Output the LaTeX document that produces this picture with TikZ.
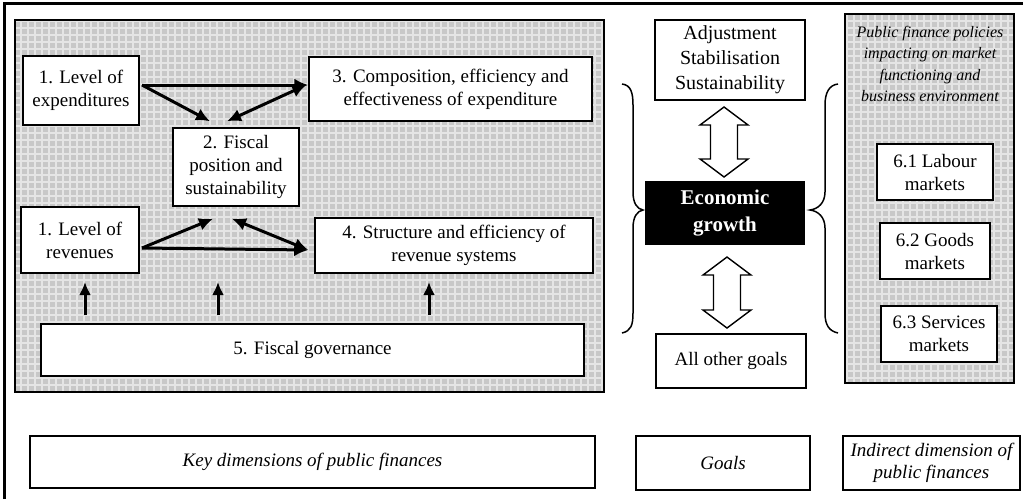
\documentclass[tikz,border=0pt]{standalone}
\usepackage{fontspec}
\setmainfont{Liberation Serif}
\usetikzlibrary{arrows.meta,calc}
\definecolor{panelbg}{RGB}{200,200,200}
\definecolor{panelgrid}{RGB}{229,229,229}
\tikzset{
  box/.style={draw, fill=white, line width=1.5pt, inner sep=0pt, align=center,
    font=\fontsize{19}{23}\selectfont},
  arr/.style={line width=3pt, -{Latex[length=14pt,width=13pt]}},
  dblarr/.style={line width=3pt, {Latex[length=14pt,width=13pt]}-{Latex[length=14pt,width=13pt]}},
  uparr/.style={line width=3pt, -{Latex[length=13pt,width=12pt]}},
  openarrow/.style={draw, fill=white, line width=1.4pt, line join=miter},
  brace/.style={draw, line width=1.5pt},
  panel/.style={draw, line width=1.4pt}
}
\begin{document}
\begin{tikzpicture}[x=1pt,y=-1pt]
\useasboundingbox (0,0) rectangle (1023,499);
% outer frame (top and left visible)
\draw[line width=3pt] (4,499) -- (4,3) -- (1023,3);
% left panel
\begin{scope}
\clip (15,20) rectangle (604,392);
\fill[panelbg] (15,20) rectangle (604,392);
\draw[panelgrid, line width=1.2pt, step=7pt] (15,20) grid (604,392);
\end{scope}
\draw[panel] (15,20) rectangle (604,392);
% right panel
\begin{scope}
\clip (845,14) rectangle (1014,383);
\fill[panelbg] (845,14) rectangle (1014,383);
\draw[panelgrid, line width=1.2pt, step=7pt] (845,14) grid (1014,383);
\end{scope}
\draw[panel] (845,14) rectangle (1014,383);

% boxes left panel
\node[box, minimum width=116, minimum height=69] (exp) at (81,90.5) {1. Level of\\expenditures};
\node[box, minimum width=283, minimum height=64] (b3) at (450.5,89) {3. Composition, efficiency and\\effectiveness of expenditure};
\node[box, minimum width=126, minimum height=78] (b2) at (236,167) {2. Fiscal\\position and\\sustainability};
\node[box, minimum width=118, minimum height=66] (rev) at (80,240) {1. Level of\\revenues};
\node[box, minimum width=278, minimum height=55] (b4) at (454,245.5) {4. Structure and efficiency of\\revenue systems};
\node[box, minimum width=543, minimum height=52] (b5) at (312.5,350) {5. Fiscal governance};

% arrows left panel
\coordinate (e0) at (142,85);
\draw[arr] (e0) -- (e0 -| b3.west);
\draw[arr] (e0) -- ([xshift=-26pt,yshift=6pt]b2.north);
\draw[dblarr] ([xshift=-9pt,yshift=6pt]b2.north) -- ([xshift=-2pt]e0 -| b3.west);
\coordinate (r0) at (142,248);
\draw[arr] (r0) -- ([xshift=-6pt,yshift=-4.5pt]b4.west);
\draw[arr] (r0) -- ([xshift=-23pt,yshift=-12pt]b2.south);
\draw[dblarr] ([xshift=-4pt,yshift=-12pt]b2.south) -- ([xshift=-6pt,yshift=-4.5pt]b4.west);
\coordinate (u1) at (85,315);
\coordinate (u2) at (218,315);
\coordinate (u3) at (429,315);
\coordinate (v1) at (85,282);
\coordinate (v2) at (218,282);
\coordinate (v3) at (429,282);
\draw[uparr] (u1) -- (v1);
\draw[uparr] (u2) -- (v2);
\draw[uparr] (u3) -- (v3);

% middle column
\node[box, minimum width=150, minimum height=80, font=\fontsize{20}{25}\selectfont] (adj) at (730,60) {Adjustment\\Stabilisation\\Sustainability};
\node[box, fill=black, text=white, minimum width=158, minimum height=62, font=\fontsize{21}{27}\selectfont\bfseries] (eg) at (725,213) {Economic\\growth};
\node[box, minimum width=150, minimum height=54] (oth) at (731,361) {All other goals};

\coordinate (da1) at (724,142);
\draw[openarrow] ($(da1)+(0,-35)$) -- ++(24,18) -- ++(-10.5,0) -- ++(0,34) -- ++(10.5,0) -- ++(-24,18) -- ++(-24,-18) -- ++(10.5,0) -- ++(0,-34) -- ++(-10.5,0) -- cycle;
\coordinate (da2) at (727,292.5);
\draw[openarrow] ($(da2)+(0,-35.5)$) -- ++(24,18) -- ++(-10.5,0) -- ++(0,35) -- ++(10.5,0) -- ++(-24,18) -- ++(-24,-18) -- ++(10.5,0) -- ++(0,-35) -- ++(-10.5,0) -- cycle;

% braces
\draw[brace] (622,84) .. controls (631,85) and (633,93) .. (633,105) -- (633,192)
  .. controls (633,203) and (637,209) .. (643,210)
  .. controls (637,211) and (633,217) .. (633,228) -- (633,313)
  .. controls (633,325) and (631,331) .. (622,333);
\draw[brace] (838,84) .. controls (829,85) and (825,93) .. (825,105) -- (825,192)
  .. controls (825,203) and (818,209) .. (810,210)
  .. controls (818,211) and (825,217) .. (825,228) -- (825,313)
  .. controls (825,325) and (829,331) .. (838,333);

% right panel content
\node[align=center, font=\fontsize{16}{21.5}\selectfont\itshape] (pfp) at (930,64) {Public finance policies\\impacting on market\\functioning and\\business environment};
\node[box, minimum width=116, minimum height=56] (m1) at (935,172) {6.1 Labour\\markets};
\node[box, minimum width=110, minimum height=56] (m2) at (935,251) {6.2 Goods\\markets};
\node[box, minimum width=116, minimum height=56] (m3) at (939,334) {6.3 Services\\markets};

% legend row
\node[box, minimum width=565, minimum height=52, font=\fontsize{19}{23}\selectfont\itshape] (key) at (312.5,462) {Key dimensions of public finances};
\node[box, minimum width=174, minimum height=54, font=\fontsize{19}{23}\selectfont\itshape] (goals) at (723,463) {Goals};
\node[box, minimum width=177, minimum height=54, font=\fontsize{19}{22}\selectfont\itshape] (ind) at (931.5,463) {Indirect dimension of\\public finances};
\end{tikzpicture}
\end{document}
